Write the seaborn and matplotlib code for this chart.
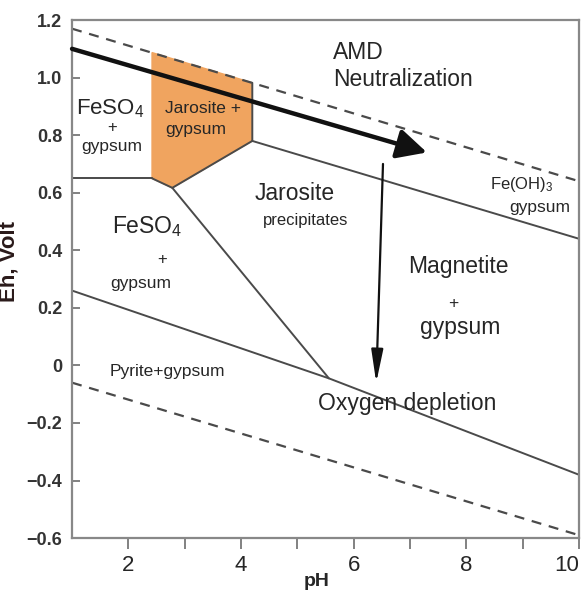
import pandas as pd
import matplotlib
matplotlib.use('Agg')
import matplotlib.pyplot as plt
import seaborn as sns

# stability field boundaries (pH, Eh in volts)
water_ox_ph = [1, 10]
water_ox_eh = [1.17, 0.64]
water_red_ph = [1, 10]
water_red_eh = [-0.06, -0.59]
feso4_ph = [1, 2.42]
feso4_eh = [0.65, 0.65]
jarosite_ph = [2.42, 4.2, 4.2, 2.78, 2.42]
jarosite_eh = [1.087, 0.982, 0.78, 0.617, 0.65]
feoh3_ph = [4.2, 10]
feoh3_eh = [0.78, 0.44]
jar_lower_ph = [2.78, 5.56]
jar_lower_eh = [0.617, -0.045]
pyrite_ph = [1, 5.56, 10]
pyrite_eh = [0.26, -0.045, -0.38]

# process arrows
amd_start = (1.0, 1.10)
amd_end = (7.3, 0.74)
o2_start = (6.52, 0.70)
o2_end = (6.4, -0.06)

x_ticks = [2, 4, 6, 8, 10]
x_minor = [3, 5, 7, 9]
y_ticks = [1.2, 1.0, 0.8, 0.6, 0.4, 0.2, 0, -0.2, -0.4, -0.6]
y_labels = ['1.2', '1.0', '0.8', '0.6', '0.4', '0.2', '0', '\u22120.2', '\u22120.4', '\u22120.6']

sns.set_style('ticks')
plt.rcParams['font.family'] = ['Liberation Sans', 'DejaVu Sans']
plt.rcParams['mathtext.fontset'] = 'custom'
plt.rcParams['mathtext.rm'] = 'Liberation Sans'
plt.rcParams['mathtext.it'] = 'Liberation Sans:italic'
plt.rcParams['mathtext.bf'] = 'Liberation Sans:bold'

fig = plt.figure(figsize=(5.81, 5.90), dpi=100)
ax = fig.add_axes([0.124, 0.088, 0.8726, 0.878])

line_col = '#4a4a4a'
txt_col = '#262626'

ax.fill(jarosite_ph, jarosite_eh, color='#f0a45f', zorder=1)
ax.plot(jarosite_ph[1:], jarosite_eh[1:], color=line_col, lw=1.4, zorder=2)

solid = [(feso4_ph, feso4_eh), (feoh3_ph, feoh3_eh),
         (jar_lower_ph, jar_lower_eh), (pyrite_ph, pyrite_eh)]
for xs, ys in solid:
    sns.lineplot(x=xs, y=ys, ax=ax, color=line_col, lw=1.4, sort=False,
                 estimator=None, zorder=2)
for xs, ys in [(water_ox_ph, water_ox_eh), (water_red_ph, water_red_eh)]:
    sns.lineplot(x=xs, y=ys, ax=ax, color=line_col, lw=1.6, sort=False,
                 estimator=None, zorder=2, linestyle=(0, (4.5, 3.5)))

ax.annotate('', xy=amd_end, xytext=amd_start,
            arrowprops=dict(arrowstyle='-|>,head_length=0.9,head_width=0.45',
                            mutation_scale=20, lw=3.2, color='#111111',
                            shrinkA=0, shrinkB=0), zorder=4)
ax.annotate('', xy=o2_end, xytext=o2_start,
            arrowprops=dict(arrowstyle='-|>,head_length=1.0,head_width=0.18',
                            mutation_scale=20, lw=1.6, color='#111111',
                            shrinkA=0, shrinkB=0), zorder=4)

labels = [
    (5.63, 1.089, 'AMD', 16.5, 'left'),
    (5.63, 0.992, 'Neutralization', 16.5, 'left'),
    (1.67, 0.891, 'FeSO$_4$', 16, 'center'),
    (1.71, 0.828, '+', 12, 'center'),
    (1.71, 0.759, 'gypsum', 12.5, 'center'),
    (2.65, 0.894, 'Jarosite +', 12.5, 'left'),
    (2.65, 0.818, 'gypsum', 12.5, 'left'),
    (2.33, 0.481, 'FeSO$_4$', 16.5, 'center'),
    (2.60, 0.368, '+', 12, 'center'),
    (2.22, 0.286, 'gypsum', 12.5, 'center'),
    (4.96, 0.599, 'Jarosite', 16.5, 'center'),
    (5.14, 0.505, 'precipitates', 12, 'center'),
    (8.99, 0.630, 'Fe(OH)$_3$', 12, 'center'),
    (9.31, 0.550, 'gypsum', 12.5, 'center'),
    (7.85, 0.342, 'Magnetite', 16.5, 'center'),
    (7.76, 0.215, '+', 12.5, 'center'),
    (7.89, 0.130, 'gypsum', 16.5, 'center'),
    (2.70, -0.020, 'Pyrite+gypsum', 12.5, 'center'),
    (6.95, -0.131, 'Oxygen depletion', 16.5, 'center'),
]
for x, y, s, fs, ha in labels:
    ax.text(x, y, s, fontsize=fs, ha=ha, va='center', color=txt_col, zorder=5)

ax.set_xlim(1, 10)
ax.set_ylim(-0.6, 1.2)
ax.set_xticks(x_ticks)
ax.set_xticks(x_minor, minor=True)
ax.set_xticklabels([str(t) for t in x_ticks], fontsize=16, color=txt_col)
ax.get_xticklabels()[-1].set_horizontalalignment('right')
ax.set_yticks(y_ticks)
ax.set_yticklabels(y_labels, fontsize=13, fontweight='bold', color='#333333')
ax.tick_params(axis='x', which='both', direction='out', length=8, width=1.3,
               color='#777777', pad=4)
ax.tick_params(axis='y', direction='in', length=6, width=1.3,
               color='#777777', pad=7)

for sp in ax.spines.values():
    sp.set_visible(True)
    sp.set_color('#888888')
    sp.set_linewidth(1.6)

ax.set_xlabel('pH', fontsize=14, fontweight='bold', color=txt_col)
ax.set_ylabel('Eh, Volt', fontsize=16, fontweight='bold', color='#2a1a1a')
ax.xaxis.set_label_coords(0.483, -0.068)
ax.yaxis.set_label_coords(-0.103, 0.533)

fig.savefig('out.png', dpi=100)
